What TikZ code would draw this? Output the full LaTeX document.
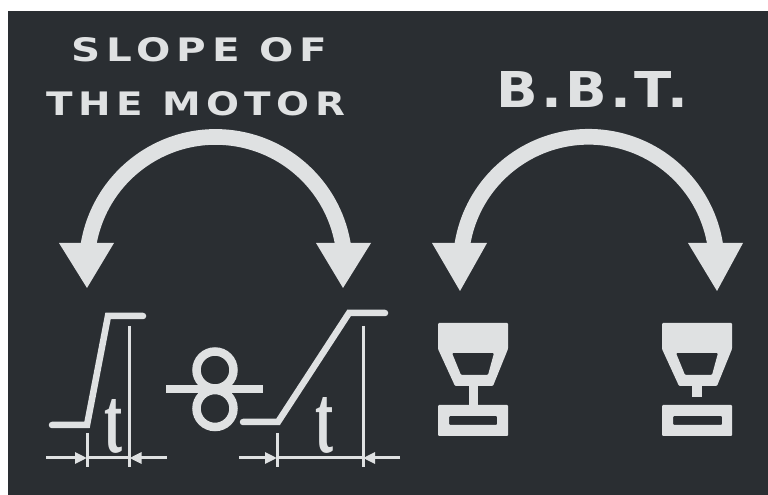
\documentclass[tikz,border=0pt]{standalone}
\usepackage{fontspec}
\usepackage{graphicx}
\usetikzlibrary{arrows.meta}
\setmainfont{DejaVu Sans}
\newfontfamily\serifT{Liberation Serif}
\definecolor{panel}{HTML}{2A2E32}
\definecolor{ink}{HTML}{DFE1E2}
\tikzset{
  inkfill/.style={fill=ink,draw=none,even odd rule},
  bigarc/.style={draw=ink,line width=15.7pt},
  wave/.style={draw=ink,line width=6.5pt,line cap=round,line join=miter},
  thin/.style={draw=ink,line width=3pt},
  dimarrow/.style={draw=ink,line width=3pt,-{Triangle[length=12pt,width=11pt]}},
  ring/.style={draw=ink,line width=8.5pt},
  lbl/.style={inner sep=0pt,text=ink,anchor=center},
  hopper/.style={inkfill,rounded corners=1pt}
}
\begin{document}
\begin{tikzpicture}[x=1pt,y=1pt]
\useasboundingbox (0,0) rectangle (768,495);
\fill[panel] (8,0) rectangle (768,484);
% labels
\node[lbl] (slope) at (199.5,445) {\resizebox{255pt}{24pt}{\bfseries\addfontfeature{LetterSpace=14}SLOPE OF}};
\node[lbl] (motor) at (196,391) {\resizebox{298pt}{24pt}{\bfseries\addfontfeature{LetterSpace=14}THE MOTOR}};
\node[lbl] (bbt) at (592.5,405) {\resizebox{191pt}{36pt}{\bfseries\addfontfeature{LetterSpace=6}B.B.T.}};
% left double arrow
\draw[bigarc] (88,247) arc[start angle=172,end angle=8,radius=129pt];
\fill[ink] (59,252) -- (114,252) -- (87,207) -- cycle;
\fill[ink] (316,252) -- (371,252) -- (343,207) -- cycle;
% right double arrow
\draw[bigarc] (462,248) arc[start angle=172,end angle=8,radius=128pt];
\fill[ink] (432,252) -- (487,252) -- (460,204) -- cycle;
\fill[ink] (688,252) -- (743,252) -- (717,204) -- cycle;
% left waveform
\draw[wave] (52,70) -- (87,70) -- (108,179) -- (143,179);
\draw[thin] (87.3,62) -- (87.3,28);
\draw[thin] (129.5,169) -- (129.5,28);
\draw[thin] (87,37) -- (129.5,37);
\draw[dimarrow] (46,37) -- (87,37);
\draw[dimarrow] (167,37) -- (129.5,37);
\node[lbl] (t1) at (113.5,68.5) {\resizebox{18pt}{53pt}{\bfseries\serifT t}};
% coil symbol
\draw[ring] (215,125) circle[radius=18.5pt];
\draw[ring] (215,86.5) circle[radius=18.5pt];
\draw[draw=ink,line width=8pt] (166,106) -- (263,106);
% right waveform
\draw[wave] (243,73) -- (278,73) -- (349,182) -- (385,182);
\draw[thin] (277.3,62) -- (277.3,28);
\draw[thin] (363,169) -- (363,28);
\draw[thin] (277,37) -- (363,37);
\draw[dimarrow] (239,37) -- (277,37);
\draw[dimarrow] (400,37) -- (363,37);
\node[lbl] (t2) at (324,70) {\resizebox{18pt}{55pt}{\bfseries\serifT t}};
% left hopper
\fill[hopper] (438,172) -- (508,172) -- (508,146) -- (493,109) -- (455,109) -- (438,146) -- cycle
  (452,142) -- (494,142) -- (488,120) -- (461,120) -- cycle;
\fill[ink] (469,110) rectangle (478,90);
\fill[hopper] (438,90) rectangle (508,59) (449,79) rectangle (497,70);
% right hopper
\fill[hopper] (662,172) -- (732,172) -- (732,146) -- (717,109) -- (679,109) -- (662,146) -- cycle
  (676,142) -- (718,142) -- (712,120) -- (685,120) -- cycle;
\fill[ink] (692,110) rectangle (702,98);
\fill[hopper] (662,90) rectangle (732,59) (673,79) rectangle (722,70);
\end{tikzpicture}
\end{document}
